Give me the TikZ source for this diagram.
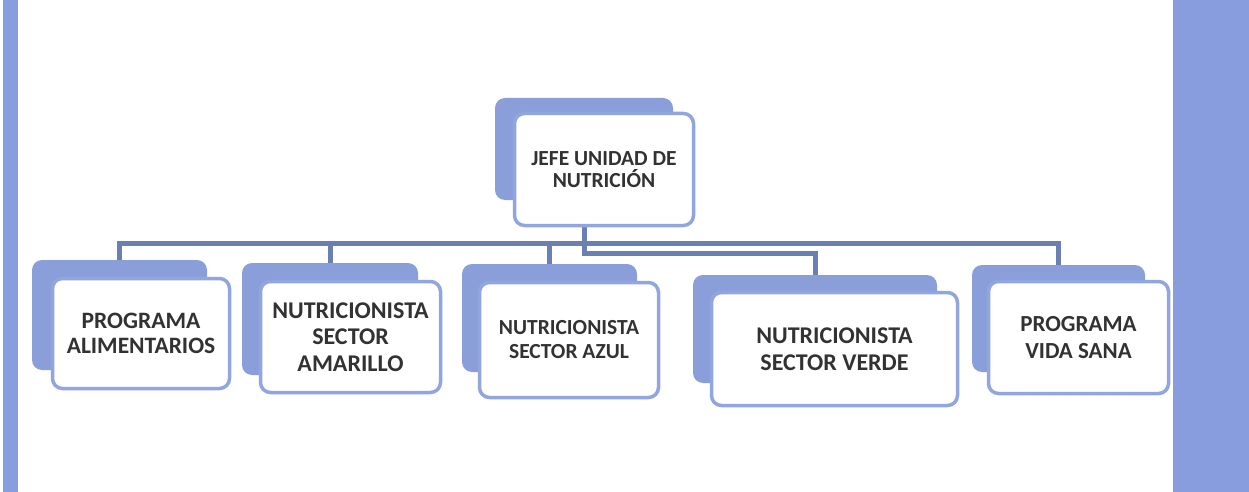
\documentclass[tikz,border=0pt]{standalone}
\usepackage{fontspec}
\setmainfont{Carlito}
\pgfdeclarelayer{paper}
\pgfdeclarelayer{bg}
\pgfsetlayers{paper,bg,main}
\definecolor{boxblue}{RGB}{138,158,218}
\definecolor{edgeblue}{RGB}{146,166,222}
\definecolor{stripe}{RGB}{136,157,221}
\definecolor{conn}{RGB}{105,128,176}
\definecolor{txt}{RGB}{50,50,50}
\tikzset{
  backbox/.style={fill=boxblue, draw=none, rounded corners=10pt, inner sep=0pt},
  frontbox/.style={fill=white, draw=edgeblue, line width=3.5pt, rounded corners=10pt,
    align=center, text=txt, inner sep=0pt},
  connline/.style={draw=conn, line width=5pt, line join=miter},
}
\newcommand{\fs}[2]{\fontsize{#1}{#2}\selectfont\bfseries}
\begin{document}
\begin{tikzpicture}[x=1pt,y=-1pt]
\useasboundingbox (0,0) rectangle (1249,492);
\begin{pgfonlayer}{paper}
\fill[white] (0,0) rectangle (1249,492);
\fill[stripe] (3,0) rectangle (18,492);
\fill[stripe] (1173,0) rectangle (1249,492);
\end{pgfonlayer}

% root
\node[backbox, minimum width=178pt, minimum height=102pt] (rb) at (584,149) {};
\node[frontbox, minimum width=179pt, minimum height=112pt, font=\fs{21.5}{22}] (rf) at (604,169.5) {JEFE UNIDAD DE\\NUTRICIÓN};

% box 1
\node[backbox, minimum width=175pt, minimum height=110pt] (b1b) at (119.5,315) {};
\node[frontbox, minimum width=177pt, minimum height=110pt, font=\fs{23.5}{25.5}] (b1f) at (141,333.5) {PROGRAMA\\ALIMENTARIOS};

% box 2
\node[backbox, minimum width=176pt, minimum height=112pt] (b2b) at (330,319) {};
\node[frontbox, minimum width=180pt, minimum height=111pt, font=\fs{24}{26.5}] (b2f) at (350.5,337) {NUTRICIONISTA\\SECTOR\\AMARILLO};

% box 3
\node[backbox, minimum width=175pt, minimum height=108pt] (b3b) at (549.5,318) {};
\node[frontbox, minimum width=179pt, minimum height=115pt, font=\fs{21.5}{24}] (b3f) at (569,340) {NUTRICIONISTA\\SECTOR AZUL};

% box 4
\node[backbox, minimum width=244pt, minimum height=108pt] (b4b) at (815,329) {};
\node[frontbox, minimum width=246pt, minimum height=113pt, font=\fs{24}{27}] (b4f) at (834.5,349) {NUTRICIONISTA\\SECTOR VERDE};

% box 5
\node[backbox, minimum width=173pt, minimum height=107pt] (b5b) at (1058.5,318.5) {};
\node[frontbox, minimum width=180pt, minimum height=112pt, font=\fs{23}{27}] (b5f) at (1078.5,337.5) {PROGRAMA\\VIDA SANA};

\coordinate (bus) at (0,243);
\coordinate (bustwo) at (0,253);

\begin{pgfonlayer}{bg}
\draw[connline] (b1b.north) -- (b1b.north |- bus) -- (b5b.north |- bus) -- (b5b.north);
\draw[connline] (b2b.north) -- (b2b.north |- bus);
\draw[connline] (b3b.north) -- (b3b.north |- bus);
\draw[connline] (rb.center) -- (rb.center |- bustwo) -- (b4b.north |- bustwo) -- (b4b.north);
\end{pgfonlayer}
\end{tikzpicture}
\end{document}
